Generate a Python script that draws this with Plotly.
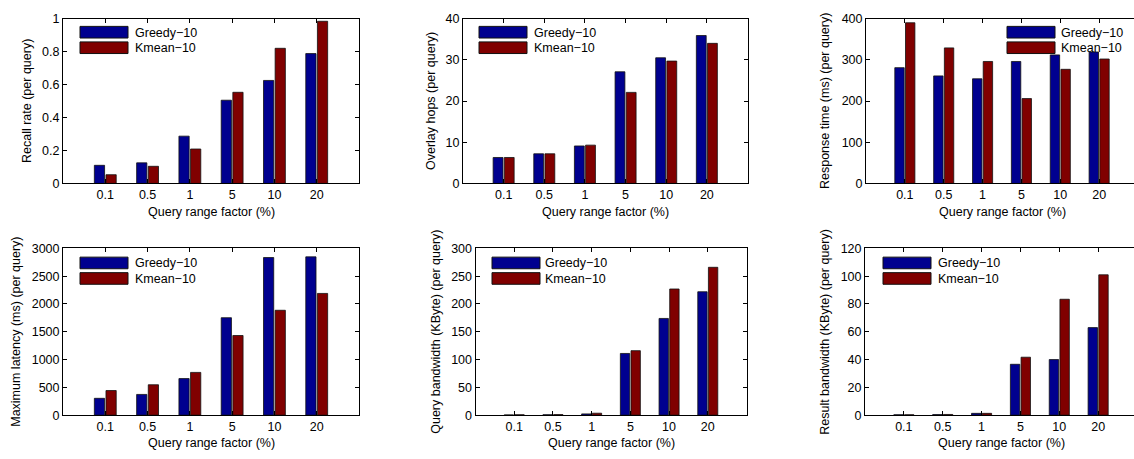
import plotly.graph_objects as go

# ---------------- data ----------------
categories = ["0.1", "0.5", "1", "5", "10", "20"]
series_names = ["Greedy−10", "Kmean−10"]

recall_greedy = [0.110, 0.125, 0.287, 0.505, 0.625, 0.788]
recall_kmean = [0.053, 0.104, 0.209, 0.553, 0.820, 0.984]

hops_greedy = [6.3, 7.2, 9.1, 27.1, 30.5, 35.9]
hops_kmean = [6.3, 7.2, 9.3, 22.1, 29.7, 34.0]

resp_greedy = [281, 261, 254, 296, 312, 319]
resp_kmean = [390, 329, 296, 206, 277, 302]

latency_greedy = [303, 373, 658, 1753, 2836, 2848]
latency_kmean = [443, 547, 769, 1433, 1887, 2190]

qbw_greedy = [0.5, 0.8, 2.3, 111, 174, 222]
qbw_kmean = [0.7, 1.0, 3.5, 116, 227, 266]

rbw_greedy = [0.3, 0.4, 1.3, 36.6, 40.0, 63.0]
rbw_kmean = [0.3, 0.5, 1.3, 41.7, 83.4, 101.0]

y_titles = [
    "Recall rate (per query)",
    "Overlay hops (per query)",
    "Response time (ms) (per query)",
    "Maximum latency (ms) (per query)",
    "Query bandwidth (KByte) (per query)",
    "Result bandwidth (KByte) (per query)",
]
x_title = "Query range factor (%)"
y_ranges = [(0, 1), (0, 40), (0, 400), (0, 3000), (0, 300), (0, 120)]
y_dticks = [0.2, 10, 100, 500, 50, 20]

# ---------------- layout geometry (pixels) ----------------
W, H = 1134, 459
# left, right (full axis extent), top, bottom
panels = [
    (63, 359, 12, 182),
    (463, 747.5, 12, 182),
    (866, 1138, 12, 182),
    (63, 359, 249, 421),
    (475.5, 746.5, 249, 421),
    (865, 1137, 249, 421),
]
# legend placement: (patch left, text left, first patch top) in px
legend_pos = [
    (80, 133, 20),
    (479, 532, 20),
    (1007, 1059, 20),
    (80, 133, 258),
    (492, 543, 258),
    (883, 936, 258),
]
ytitle_x = [27, 431, 825, 16, 436, 825]

colors = ["#00008F", "#800000"]
FONT = "Liberation Sans, Arial, Helvetica, sans-serif"
FS = 12.5

data_pairs = [
    (recall_greedy, recall_kmean),
    (hops_greedy, hops_kmean),
    (resp_greedy, resp_kmean),
    (latency_greedy, latency_kmean),
    (qbw_greedy, qbw_kmean),
    (rbw_greedy, rbw_kmean),
]


def px(x):
    return x / W


def py(y):
    return 1 - y / H


fig = go.Figure()
shapes = []
annotations = []
layout_axes = {}

for i, (pair, (l, r, t, b)) in enumerate(zip(data_pairs, panels)):
    n = "" if i == 0 else str(i + 1)
    xa, ya = "x" + n, "y" + n
    for s, vals in enumerate(pair):
        fig.add_trace(go.Bar(
            x=categories, y=vals, name=series_names[s],
            marker=dict(color=colors[s], line=dict(color="#111111", width=0.8)),
            xaxis=xa, yaxis=ya, showlegend=False, hoverinfo="skip",
        ))
    vis_r = min(r, W)
    frac = (vis_r - l) / (r - l)
    xmax = -1 + 7 * frac
    cut = r > W
    layout_axes["xaxis" + n] = dict(
        domain=[px(l), px(vis_r)], anchor=ya, type="category",
        range=[-1, xmax], showline=True, linecolor="black", linewidth=1,
        mirror="ticks", ticks="inside", ticklen=4, tickcolor="black",
        tickfont=dict(size=FS, color="black", family=FONT),
        showgrid=False, zeroline=False, fixedrange=True,
    )
    layout_axes["yaxis" + n] = dict(
        domain=[py(b), py(t)], anchor=xa, range=list(y_ranges[i]),
        dtick=y_dticks[i], tick0=0, showline=True, linecolor="black",
        linewidth=1, mirror=False if cut else "ticks", ticks="inside",
        ticklen=4, tickcolor="black",
        tickfont=dict(size=FS, color="black", family=FONT),
        showgrid=False, zeroline=False, fixedrange=True,
    )
    # axis titles
    annotations.append(dict(
        x=px((l + r) / 2), y=py(b + 29), xref="paper", yref="paper",
        text=x_title, showarrow=False, xanchor="center", yanchor="middle",
        font=dict(size=FS, color="black", family=FONT),
    ))
    annotations.append(dict(
        x=px(ytitle_x[i]), y=py((t + b) / 2), xref="paper", yref="paper",
        text=y_titles[i], showarrow=False, textangle=-90,
        xanchor="center", yanchor="middle",
        font=dict(size=FS, color="black", family=FONT),
    ))
    # legend
    pl, tl, pt = legend_pos[i]
    for s in range(2):
        top = pt + 16 * s
        shapes.append(dict(
            type="rect", xref="paper", yref="paper",
            x0=px(pl), x1=px(pl + 48), y0=py(top + 12), y1=py(top),
            fillcolor=colors[s], line=dict(color="#111111", width=1),
            layer="above",
        ))
        annotations.append(dict(
            x=px(tl), y=py(top + 6.5), xref="paper", yref="paper",
            text=series_names[s], showarrow=False, xanchor="left",
            yanchor="middle", font=dict(size=FS, color="black", family=FONT),
        ))

fig.update_layout(
    width=W, height=H, margin=dict(l=0, r=0, t=0, b=0),
    paper_bgcolor="white", plot_bgcolor="white",
    barmode="group", bargap=0.45, bargroupgap=0.12,
    shapes=shapes, annotations=annotations,
    font=dict(family=FONT, size=FS, color="black"),
    **layout_axes,
)

fig.write_html(
    "out.html",
    config={"displayModeBar": False, "staticPlot": True},
    post_script="document.body.style.margin='0';document.body.style.overflow='hidden';",
)
